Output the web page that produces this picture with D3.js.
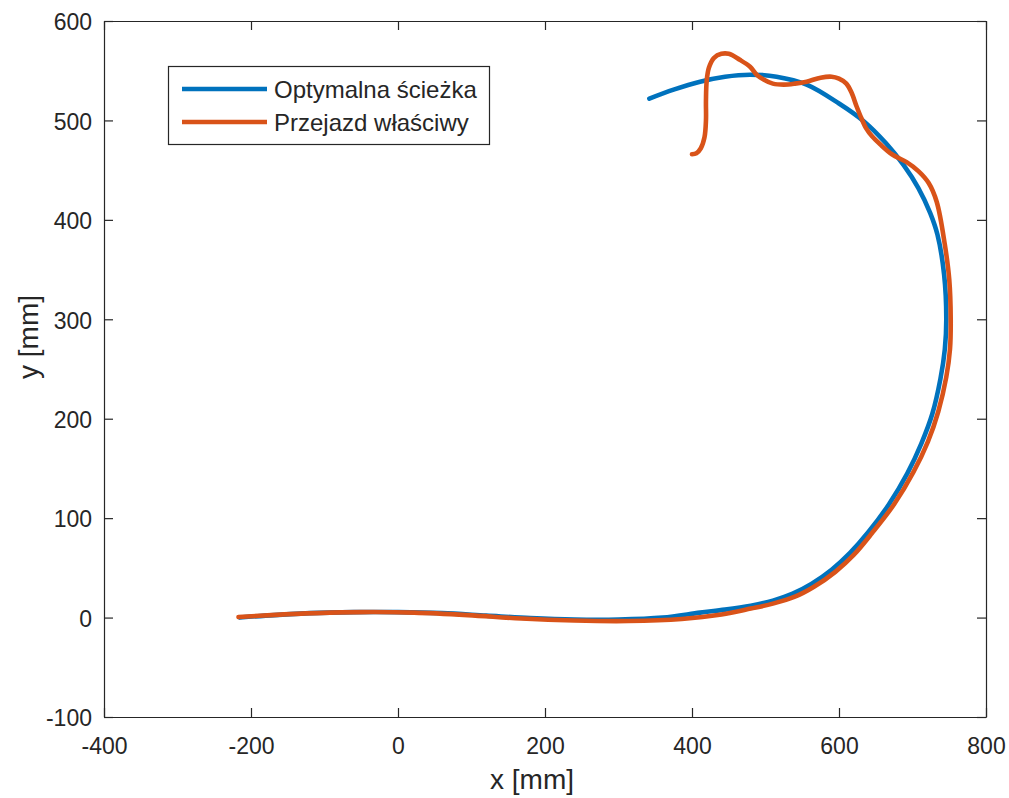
<!DOCTYPE html>
<html>
<head>
<meta charset="utf-8">
<script src="https://cdn.jsdelivr.net/npm/d3@7/dist/d3.min.js"></script>
<style>
  html, body { margin: 0; padding: 0; background: #fff; }
  svg text { font-family: "Liberation Sans", Arial, Helvetica, sans-serif; fill: #262626; }
</style>
</head>
<body>
<svg id="chart" width="1009" height="798"></svg>
<script>
// Optimal path [x mm, y mm]
const optimalPath = [
  [-215, 0], [-180, 2], [-120, 4.5], [-60, 5.5], [0, 5.5], [60, 4.5], [120, 2],
  [180, -0.5], [240, -2], [300, -2], [360, 0], [411, 5], [445, 8], [480, 12],
  [510, 17], [537, 24], [563, 34], [590, 48], [615, 65], [640, 86], [668, 114],
  [693, 145], [712, 175], [727, 205], [738, 240], [744, 270], [746, 300], [743, 345],
  [734, 385], [724, 407], [708, 432], [688, 455], [664, 477], [634, 499], [600, 517],
  [556, 536], [515, 544], [479, 546], [445, 544], [411, 539], [375, 531], [342, 522]
];

// Recorded run [x mm, y mm]
const actualRun = [
  [-217, 0.5], [-172, 2.5], [-110, 4.5], [-50, 5.5], [22, 5], [95, 2.5], [168, -1],
  [240, -3], [313, -3.5], [386, -1.5], [440, 3], [480, 9], [510, 14], [540, 21],
  [566, 31], [595, 46], [620, 63], [645, 85], [675, 114], [701, 146], [721, 177],
  [735, 207], [746, 242], [751, 270], [752, 300], [750, 340], [744, 375], [733, 418],
  [722, 437], [708, 449], [692, 458], [672, 466], [656, 476], [645, 484], [637, 492],
  [630, 503], [624, 514], [617, 528], [610, 537], [600, 542], [590, 544], [575, 543],
  [556, 539], [540, 537], [525, 536], [510, 537], [498, 541], [488, 546], [479, 554],
  [465, 561], [450, 567], [440, 567], [430, 563], [423, 553], [420, 540], [419, 520],
  [419, 500], [417, 483], [412, 472], [406, 467], [400, 466]
];

const seriesNames = ["Optymalna ścieżka", "Przejazd właściwy"];
const seriesColors = ["#0072BD", "#D95319"];
const xTicks = [-400, -200, 0, 200, 400, 600, 800];
const yTicks = [-100, 0, 100, 200, 300, 400, 500, 600];
const xLabel = "x [mm]";
const yLabel = "y [mm]";

const svg = d3.select("#chart");
const box = { left: 104, right: 986, top: 21, bottom: 717 };

const x = d3.scaleLinear().domain([-400, 800]).range([box.left, box.right]);
const y = d3.scaleLinear().domain([-100, 600]).range([box.bottom, box.top]);

const axisColor = "#262626";
const tickLen = 9;

// Data lines
const line = d3.line()
  .x(d => x(d[0]))
  .y(d => y(d[1]))
  .curve(d3.curveCatmullRom.alpha(0.5));

const plot = svg.append("g");
[optimalPath, actualRun].forEach((data, i) => {
  plot.append("path")
    .datum(data)
    .attr("d", line)
    .attr("fill", "none")
    .attr("stroke", seriesColors[i])
    .attr("stroke-width", 4.6)
    .attr("stroke-linejoin", "round")
    .attr("stroke-linecap", "round");
});

// Axes with inward ticks on all four sides
function styleAxis(g) {
  g.select(".domain").attr("stroke", axisColor).attr("stroke-width", 1.2);
  g.selectAll(".tick line").attr("stroke", axisColor).attr("stroke-width", 1.2);
}

const fontSize = 23;

const xBottom = svg.append("g")
  .attr("transform", `translate(0,${box.bottom})`)
  .call(d3.axisBottom(x).tickValues(xTicks).tickSizeInner(-tickLen).tickSizeOuter(0).tickPadding(0))
  .call(styleAxis);
xBottom.selectAll(".tick text")
  .attr("y", 37)
  .attr("dy", 0)
  .attr("font-size", fontSize)
  .style("font-family", '"Liberation Sans", Arial, sans-serif')
  .attr("fill", axisColor);

svg.append("g")
  .attr("transform", `translate(0,${box.top})`)
  .call(d3.axisTop(x).tickValues(xTicks).tickSizeInner(-tickLen).tickSizeOuter(0).tickFormat(""))
  .call(styleAxis);

const yLeft = svg.append("g")
  .attr("transform", `translate(${box.left},0)`)
  .call(d3.axisLeft(y).tickValues(yTicks).tickSizeInner(-tickLen).tickSizeOuter(0).tickPadding(0))
  .call(styleAxis);
yLeft.selectAll(".tick text")
  .attr("x", -12)
  .attr("dy", "0.38em")
  .attr("font-size", fontSize)
  .style("font-family", '"Liberation Sans", Arial, sans-serif')
  .attr("fill", axisColor);

svg.append("g")
  .attr("transform", `translate(${box.right},0)`)
  .call(d3.axisRight(y).tickValues(yTicks).tickSizeInner(-tickLen).tickSizeOuter(0).tickFormat(""))
  .call(styleAxis);

// Plain hyphen for negative tick values
svg.selectAll(".tick text").text(function() { return this.textContent.replace("−", "-"); });

// Axis titles
svg.append("text")
  .attr("x", 532)
  .attr("y", 789)
  .attr("text-anchor", "middle")
  .attr("font-size", 28)
  .text(xLabel);

svg.append("text")
  .attr("transform", "translate(38,337) rotate(-90)")
  .attr("text-anchor", "middle")
  .attr("font-size", 28)
  .text(yLabel);

// Legend
const legend = svg.append("g");
legend.append("rect")
  .attr("x", 168.5).attr("y", 66.5)
  .attr("width", 321).attr("height", 78)
  .attr("fill", "#fff")
  .attr("stroke", axisColor)
  .attr("stroke-width", 1.2);

const legendRows = [89, 122];
seriesNames.forEach((name, i) => {
  legend.append("line")
    .attr("x1", 182).attr("x2", 267)
    .attr("y1", legendRows[i]).attr("y2", legendRows[i])
    .attr("stroke", seriesColors[i])
    .attr("stroke-width", 4.6);
  legend.append("text")
    .attr("x", 274)
    .attr("y", legendRows[i] + 9)
    .attr("font-size", 24)
    .text(name);
});
</script>
</body>
</html>
